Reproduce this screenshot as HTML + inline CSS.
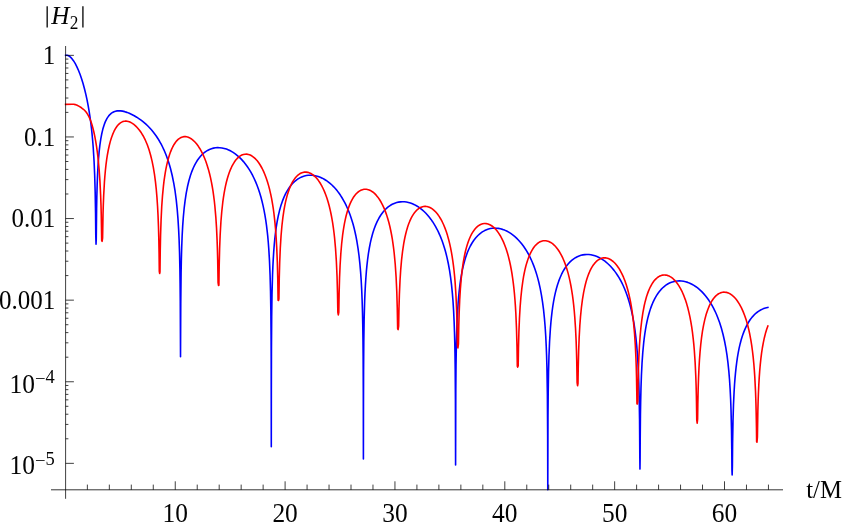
<!DOCTYPE html>
<html><head><meta charset="utf-8"><title>plot</title>
<style>
html,body{margin:0;padding:0;background:#fff;}
body{width:843px;height:527px;overflow:hidden;}
svg{display:block;}
text{font-family:"Liberation Serif",serif;fill:#000;}
</style></head><body>
<svg width="843" height="527" viewBox="0 0 843 527">
<rect width="843" height="527" fill="#fff"/>
<path d="M65.60 55.34 L66.31 55.24 L67.08 55.29 L67.85 55.48 L68.62 55.81 L69.39 56.27 L70.21 56.91 L70.98 57.62 L71.80 58.51 L73.45 60.68 L75.15 63.44 L76.79 66.61 L78.44 70.28 L80.03 74.33 L81.57 78.76 L83.05 83.56 L84.47 88.74 L85.79 94.11 L87.00 99.63 L88.15 105.56 L89.19 111.63 L90.02 117.04 L90.78 122.70 L91.50 128.67 L92.10 134.41 L92.70 141.01 L93.20 147.28 L94.08 161.47 L94.68 175.27 L95.17 191.97 L95.56 213.43 L95.78 235.67 L96.03 244.18 L96.27 238.72 L96.60 208.45 L96.82 197.17 L97.15 185.24 L97.53 175.28 L97.97 166.78 L98.52 158.71 L99.12 151.84 L99.89 145.05 L100.77 139.03 L101.76 133.73 L102.85 129.10 L104.12 124.94 L104.77 123.14 L105.49 121.43 L106.26 119.81 L107.02 118.41 L107.85 117.10 L108.72 115.90 L109.93 114.53 L111.19 113.40 L112.57 112.45 L113.99 111.73 L115.53 111.21 L117.12 110.89 L118.82 110.78 L120.63 110.86 L122.61 111.14 L124.75 111.65 L126.99 112.38 L129.30 113.29 L131.77 114.43 L134.24 115.73 L136.71 117.19 L139.17 118.82 L141.42 120.44 L143.56 122.13 L145.65 123.93 L147.62 125.78 L149.54 127.74 L151.41 129.80 L153.22 131.98 L154.92 134.20 L156.57 136.52 L158.16 138.96 L159.69 141.52 L161.18 144.19 L162.60 146.99 L163.92 149.80 L165.18 152.72 L166.39 155.76 L167.54 158.92 L168.58 162.03 L169.57 165.25 L170.50 168.56 L172.20 175.48 L173.74 183.04 L175.06 190.99 L176.21 199.67 L177.14 208.55 L177.96 218.66 L178.62 229.39 L179.12 240.19 L179.56 253.59 L179.89 268.43 L180.10 283.45 L180.27 301.24 L180.52 356.67 L180.76 303.17 L181.09 272.78 L181.37 258.96 L181.70 247.42 L182.13 236.33 L182.68 226.16 L183.34 216.99 L184.16 208.23 L185.10 200.53 L186.19 193.36 L187.46 186.79 L188.83 181.01 L190.42 175.54 L191.30 172.96 L192.18 170.62 L193.38 167.75 L194.64 165.11 L196.02 162.59 L197.44 160.29 L198.92 158.20 L200.51 156.25 L202.16 154.51 L203.86 152.98 L205.67 151.60 L207.54 150.43 L209.46 149.47 L211.43 148.70 L213.46 148.14 L215.55 147.78 L217.63 147.62 L219.77 147.68 L221.97 147.93 L224.22 148.41 L226.47 149.11 L228.66 149.98 L230.91 151.09 L233.10 152.39 L235.24 153.85 L237.38 155.53 L239.47 157.39 L241.50 159.41 L243.47 161.60 L245.39 163.97 L247.26 166.51 L249.02 169.15 L250.72 171.95 L252.36 174.94 L254.01 178.24 L255.55 181.64 L257.03 185.28 L258.40 189.01 L259.71 192.99 L260.92 197.07 L262.02 201.21 L263.06 205.61 L264.05 210.33 L264.93 215.08 L265.75 220.16 L266.46 225.19 L267.12 230.53 L267.73 236.21 L268.27 242.25 L268.77 248.70 L269.48 260.62 L270.08 275.10 L270.52 291.14 L270.85 310.90 L271.07 335.15 L271.18 359.02 L271.30 446.73 L271.35 387.96 L271.46 347.11 L271.68 316.63 L272.00 294.63 L272.55 274.51 L272.88 266.39 L273.27 258.84 L273.71 251.87 L274.25 244.79 L274.80 238.95 L275.46 233.10 L276.34 226.64 L277.27 220.98 L278.31 215.70 L279.52 210.56 L280.84 205.86 L282.32 201.40 L283.91 197.36 L285.61 193.71 L287.48 190.32 L289.51 187.23 L291.65 184.51 L292.80 183.24 L293.95 182.10 L295.16 181.02 L296.37 180.05 L297.63 179.15 L298.94 178.33 L300.26 177.62 L301.63 176.98 L303.00 176.45 L304.38 176.02 L306.30 175.58 L308.22 175.31 L310.19 175.20 L312.17 175.27 L314.14 175.50 L316.17 175.91 L318.20 176.49 L320.23 177.24 L322.26 178.16 L324.24 179.22 L326.21 180.45 L328.13 181.81 L330.05 183.35 L331.92 185.02 L333.73 186.82 L335.54 188.81 L337.24 190.86 L338.89 193.04 L340.48 195.33 L342.01 197.74 L343.49 200.28 L344.92 202.94 L346.29 205.72 L347.55 208.51 L348.82 211.54 L349.97 214.56 L351.07 217.70 L352.11 220.95 L353.10 224.33 L354.03 227.83 L354.91 231.46 L355.73 235.22 L356.94 241.51 L358.03 248.33 L359.02 255.75 L359.84 263.32 L360.61 272.13 L361.22 280.94 L361.71 290.16 L362.15 300.95 L362.48 311.88 L362.75 324.52 L362.97 339.34 L363.14 356.77 L363.30 392.40 L363.40 459.01 L363.47 403.46 L363.58 369.99 L363.80 341.77 L364.12 320.56 L364.67 300.85 L365.00 292.83 L365.39 285.36 L365.83 278.44 L366.37 271.41 L366.92 265.61 L367.58 259.77 L368.40 253.70 L369.34 248.00 L370.38 242.67 L371.48 237.93 L372.74 233.31 L374.11 229.04 L375.59 225.12 L377.24 221.41 L378.99 218.04 L380.86 215.01 L382.89 212.23 L385.03 209.78 L387.28 207.66 L388.48 206.68 L389.69 205.81 L390.95 205.01 L392.22 204.31 L393.48 203.70 L394.79 203.16 L396.66 202.56 L398.52 202.12 L400.45 201.85 L402.42 201.75 L404.40 201.81 L406.43 202.05 L408.40 202.45 L410.43 203.02 L412.46 203.77 L414.44 204.66 L416.41 205.71 L418.39 206.94 L420.31 208.30 L422.23 209.83 L424.09 211.49 L425.90 213.29 L427.66 215.21 L429.36 217.25 L431.01 219.41 L432.60 221.69 L434.13 224.09 L435.61 226.61 L437.04 229.26 L438.36 231.91 L439.67 234.80 L440.88 237.68 L442.09 240.82 L443.19 243.93 L444.23 247.17 L445.22 250.52 L446.15 254.00 L447.03 257.60 L448.34 263.74 L449.55 270.43 L450.59 277.36 L451.53 284.89 L452.35 293.10 L453.01 301.31 L453.61 310.90 L454.10 321.21 L454.49 331.93 L454.76 342.19 L454.98 353.22 L455.20 369.27 L455.42 399.29 L455.59 464.89 L455.80 389.33 L456.02 364.83 L456.41 342.69 L456.96 324.77 L457.67 310.16 L458.11 303.54 L458.60 297.37 L459.15 291.64 L459.81 285.87 L460.58 280.22 L461.46 274.81 L462.44 269.67 L463.49 265.07 L464.64 260.71 L465.90 256.62 L467.27 252.81 L468.75 249.26 L470.34 245.99 L472.05 242.98 L473.86 240.25 L475.83 237.72 L477.92 235.48 L480.06 233.57 L482.30 231.93 L484.66 230.57 L486.53 229.73 L488.45 229.06 L490.37 228.58 L492.35 228.27 L494.32 228.14 L496.35 228.18 L498.38 228.40 L500.47 228.80 L502.55 229.38 L504.58 230.12 L506.67 231.06 L508.70 232.15 L510.73 233.41 L512.70 234.83 L514.62 236.38 L516.54 238.12 L518.35 239.94 L520.16 241.94 L521.86 244.02 L523.56 246.29 L525.21 248.71 L526.75 251.16 L528.23 253.75 L529.65 256.46 L531.03 259.30 L532.34 262.28 L533.60 265.40 L534.76 268.51 L535.85 271.75 L536.90 275.13 L537.88 278.64 L538.82 282.29 L540.19 288.40 L541.45 295.08 L542.55 302.05 L543.54 309.68 L544.41 318.10 L545.13 326.71 L545.73 336.01 L546.22 345.92 L546.61 356.08 L546.94 367.89 L547.38 394.22 L547.65 435.28 L547.78 489.80 L547.98 418.31 L548.20 392.48 L548.53 372.20 L548.97 356.07 L549.57 341.74 L550.39 328.64 L550.89 322.69 L551.38 317.64 L552.04 311.92 L552.75 306.70 L553.52 301.89 L554.40 297.19 L555.33 292.88 L556.37 288.72 L557.53 284.74 L558.73 281.13 L560.05 277.70 L561.48 274.48 L563.01 271.46 L564.60 268.76 L566.30 266.26 L568.11 263.97 L570.04 261.91 L572.01 260.12 L573.71 258.82 L575.47 257.69 L577.28 256.73 L579.09 255.95 L580.95 255.34 L582.87 254.89 L584.85 254.60 L586.82 254.50 L588.85 254.57 L590.88 254.81 L592.91 255.23 L594.94 255.81 L596.97 256.57 L599.00 257.50 L601.03 258.60 L603.01 259.84 L604.93 261.22 L606.85 262.78 L608.72 264.47 L610.53 266.28 L612.28 268.23 L614.04 270.37 L615.74 272.64 L617.33 274.96 L618.87 277.41 L620.35 279.99 L621.77 282.69 L623.15 285.52 L624.46 288.48 L625.67 291.44 L626.88 294.68 L627.97 297.90 L629.73 303.74 L631.27 309.73 L632.64 316.05 L633.90 322.98 L635.00 330.28 L635.93 337.85 L636.75 346.11 L637.47 355.18 L638.01 364.09 L638.45 373.23 L638.84 383.71 L639.17 396.02 L639.55 419.35 L639.82 457.84 L639.96 469.08 L640.10 459.34 L640.21 438.24 L640.43 415.61 L640.65 401.96 L640.98 388.13 L641.42 375.52 L642.02 363.40 L642.79 352.40 L643.66 343.11 L644.21 338.40 L644.82 333.91 L645.48 329.64 L646.13 325.89 L646.90 322.02 L647.72 318.37 L648.60 314.93 L649.54 311.69 L650.52 308.63 L651.62 305.61 L652.72 302.93 L653.92 300.30 L655.19 297.85 L656.50 295.58 L657.88 293.49 L659.36 291.49 L660.89 289.67 L662.48 288.02 L664.13 286.54 L665.89 285.20 L667.70 284.03 L669.51 283.07 L671.43 282.26 L673.35 281.64 L675.32 281.20 L677.35 280.94 L679.38 280.86 L681.47 280.97 L683.55 281.26 L685.64 281.73 L687.72 282.38 L689.81 283.21 L691.89 284.22 L693.92 285.38 L695.95 286.73 L697.93 288.22 L699.85 289.85 L701.77 291.67 L703.63 293.64 L705.44 295.75 L707.20 298.00 L708.85 300.32 L710.49 302.85 L712.03 305.44 L713.51 308.17 L714.94 311.03 L716.31 314.04 L717.62 317.21 L719.60 322.58 L721.41 328.32 L723.06 334.45 L724.54 340.99 L725.80 347.64 L726.95 354.96 L727.94 362.64 L728.82 371.11 L729.53 379.80 L730.13 389.21 L730.63 399.26 L731.01 409.63 L731.50 429.83 L731.78 449.41 L731.94 470.04 L732.15 475.02 L732.38 466.67 L732.60 443.04 L732.99 421.31 L733.48 404.99 L734.08 391.92 L734.52 384.80 L734.96 378.93 L735.46 373.36 L736.06 367.62 L736.72 362.34 L737.43 357.45 L738.25 352.62 L739.13 348.19 L740.17 343.67 L741.27 339.58 L742.53 335.52 L743.85 331.87 L745.33 328.33 L746.87 325.16 L748.51 322.24 L750.27 319.56 L752.13 317.12 L754.11 314.94 L756.19 313.01 L758.39 311.34 L760.64 309.97 L763.00 308.86 L765.41 308.04 L767.88 307.50" stroke="#0000ff" stroke-width="1.6" fill="none" stroke-linejoin="round" stroke-linecap="square"/>
<path d="M65.60 104.37 L72.24 104.19 L73.83 104.31 L75.20 104.60 L77.12 105.28 L79.26 106.37 L81.46 107.76 L83.43 109.29 L84.97 110.76 L86.28 112.32 L87.49 114.08 L88.64 116.13 L89.74 118.48 L90.84 121.29 L91.83 124.26 L92.81 127.72 L93.80 131.71 L94.79 136.33 L95.67 141.04 L96.49 146.12 L97.26 151.58 L97.92 157.00 L98.57 163.32 L99.12 169.53 L99.95 181.32 L100.60 194.43 L100.99 204.98 L101.26 214.95 L101.70 240.51 L102.12 241.35 L102.58 238.09 L103.02 214.56 L103.29 205.29 L103.68 195.50 L104.44 181.81 L104.88 175.98 L105.38 170.50 L105.98 164.91 L106.69 159.42 L107.46 154.48 L108.29 150.01 L109.22 145.71 L110.26 141.64 L111.36 138.01 L112.57 134.65 L113.94 131.47 L115.42 128.67 L116.19 127.45 L117.01 126.29 L117.83 125.27 L118.66 124.38 L119.53 123.57 L120.41 122.89 L121.29 122.34 L122.22 121.87 L123.15 121.53 L124.09 121.30 L125.07 121.17 L126.06 121.16 L127.10 121.26 L128.20 121.49 L129.30 121.84 L130.40 122.30 L131.55 122.90 L132.70 123.61 L133.85 124.44 L134.95 125.33 L136.05 126.33 L137.14 127.45 L139.28 129.96 L141.31 132.81 L143.23 135.99 L144.33 138.06 L145.37 140.22 L147.30 144.77 L149.05 149.77 L150.64 155.20 L152.07 161.07 L153.33 167.35 L154.48 174.37 L155.47 181.83 L156.24 189.00 L156.95 197.31 L157.55 206.30 L158.05 215.86 L158.49 227.28 L158.82 239.17 L159.09 253.48 L159.31 271.46 L159.64 273.44 L159.97 272.15 L160.24 250.58 L160.57 235.16 L161.07 220.16 L161.72 206.83 L162.49 195.88 L163.43 186.10 L163.97 181.46 L164.58 177.04 L165.24 172.84 L165.89 169.15 L166.72 165.12 L167.60 161.39 L168.53 157.93 L169.52 154.75 L170.56 151.83 L171.66 149.16 L172.81 146.74 L174.07 144.48 L175.39 142.51 L176.70 140.87 L178.13 139.43 L179.56 138.32 L181.04 137.47 L182.52 136.92 L184.06 136.63 L185.65 136.63 L186.52 136.75 L187.46 136.97 L188.33 137.26 L189.27 137.66 L191.08 138.69 L192.89 140.06 L194.70 141.77 L196.51 143.83 L198.21 146.10 L199.91 148.73 L201.50 151.55 L203.04 154.65 L204.52 158.03 L205.89 161.57 L207.21 165.41 L208.42 169.40 L209.51 173.50 L210.56 177.91 L211.43 182.12 L212.20 186.26 L212.97 190.95 L213.63 195.52 L214.29 200.75 L214.83 205.77 L215.82 217.06 L216.54 228.17 L217.08 239.89 L217.41 249.35 L217.69 259.73 L218.07 282.55 L218.50 285.35 L218.89 285.33 L219.17 266.79 L219.61 249.10 L220.16 235.03 L220.92 221.79 L221.75 211.72 L222.79 202.23 L223.39 197.80 L224.05 193.58 L224.77 189.59 L225.48 186.08 L226.36 182.27 L227.29 178.74 L228.28 175.46 L229.37 172.28 L230.53 169.37 L231.73 166.71 L233.00 164.31 L234.37 162.06 L235.79 160.09 L237.22 158.45 L238.70 157.06 L240.24 155.92 L241.83 155.06 L243.42 154.48 L245.01 154.18 L246.66 154.16 L248.41 154.45 L250.22 155.07 L252.03 156.04 L253.79 157.31 L255.55 158.93 L257.25 160.83 L258.89 163.02 L260.48 165.50 L262.02 168.25 L263.45 171.17 L264.87 174.48 L266.19 177.96 L267.45 181.73 L268.60 185.63 L269.70 189.82 L270.74 194.36 L271.62 198.69 L272.44 203.30 L273.21 208.21 L273.87 213.01 L274.47 218.05 L275.02 223.33 L275.52 228.84 L276.01 235.35 L276.72 247.46 L277.33 262.32 L277.77 279.07 L278.09 300.30 L278.50 300.42 L278.92 299.01 L279.25 278.64 L279.69 262.47 L280.29 248.13 L281.06 235.78 L281.88 226.23 L282.92 217.16 L284.08 209.49 L284.73 205.85 L285.45 202.38 L286.27 198.85 L287.20 195.36 L288.19 192.14 L289.23 189.18 L290.33 186.46 L291.48 183.98 L292.69 181.73 L294.01 179.63 L295.38 177.79 L296.75 176.25 L298.23 174.90 L299.71 173.83 L301.25 173.01 L302.84 172.44 L304.43 172.14 L306.02 172.09 L307.83 172.35 L309.64 172.93 L311.45 173.83 L313.21 175.02 L314.96 176.53 L316.67 178.31 L318.31 180.37 L319.96 182.78 L321.49 185.38 L322.97 188.25 L324.40 191.41 L325.72 194.72 L326.98 198.31 L328.13 202.03 L329.23 206.03 L330.27 210.35 L331.15 214.48 L331.92 218.55 L332.69 223.15 L333.34 227.63 L334.00 232.75 L334.55 237.66 L335.54 248.64 L336.36 261.29 L337.02 276.05 L337.51 293.28 L337.84 312.29 L338.31 314.95 L338.78 312.45 L339.11 293.67 L339.54 278.27 L340.09 265.44 L340.81 253.79 L341.63 244.02 L342.62 235.21 L343.22 230.84 L343.82 227.01 L344.48 223.33 L345.20 219.82 L346.02 216.26 L346.95 212.73 L347.88 209.65 L348.93 206.64 L350.02 203.89 L351.18 201.37 L352.38 199.09 L353.64 197.04 L354.96 195.23 L356.39 193.58 L357.81 192.24 L359.30 191.13 L360.83 190.27 L362.37 189.67 L363.96 189.32 L365.55 189.24 L366.43 189.30 L367.36 189.44 L369.17 189.97 L370.98 190.82 L372.74 191.96 L374.49 193.41 L376.19 195.14 L377.84 197.14 L379.49 199.49 L381.02 202.02 L382.50 204.82 L383.93 207.90 L385.25 211.13 L386.51 214.62 L387.72 218.41 L388.81 222.31 L389.86 226.51 L390.73 230.51 L391.56 234.74 L392.33 239.21 L392.98 243.55 L393.59 248.05 L394.19 253.20 L395.23 264.29 L396.11 277.30 L396.77 291.50 L397.26 307.71 L397.65 328.83 L398.12 329.57 L398.63 326.24 L398.96 308.82 L399.40 294.12 L400.01 280.67 L400.72 269.57 L401.54 260.15 L402.53 251.58 L403.68 243.88 L404.34 240.24 L405.05 236.76 L405.88 233.22 L406.75 229.91 L407.69 226.83 L408.73 223.82 L409.77 221.19 L410.92 218.65 L412.08 216.45 L413.34 214.37 L414.66 212.53 L416.03 210.91 L417.45 209.54 L418.88 208.43 L420.36 207.56 L421.90 206.91 L423.43 206.53 L425.03 206.38 L425.90 206.42 L426.84 206.53 L428.65 207.00 L430.46 207.79 L432.27 208.90 L434.02 210.31 L435.78 212.05 L437.48 214.07 L439.13 216.38 L440.72 218.97 L442.20 221.74 L443.62 224.78 L445.00 228.11 L446.26 231.59 L447.47 235.35 L448.62 239.43 L449.66 243.63 L450.54 247.63 L451.36 251.85 L452.13 256.31 L452.84 261.03 L453.45 265.58 L454.05 270.78 L454.60 276.26 L455.09 282.03 L455.97 295.29 L456.63 309.90 L457.12 326.86 L457.45 345.38 L457.93 347.93 L458.44 343.95 L458.77 326.31 L459.15 313.04 L459.70 300.07 L460.41 288.32 L461.24 278.50 L462.22 269.64 L463.38 261.74 L464.69 254.71 L465.46 251.30 L466.34 247.88 L467.27 244.70 L468.26 241.75 L469.30 239.02 L470.40 236.51 L471.55 234.22 L472.76 232.14 L474.08 230.20 L475.39 228.56 L476.76 227.14 L478.19 225.94 L479.67 224.98 L481.15 224.27 L482.69 223.79 L484.23 223.56 L485.16 223.54 L486.09 223.60 L487.02 223.75 L487.96 223.99 L489.82 224.72 L491.63 225.75 L493.44 227.12 L495.25 228.84 L496.95 230.79 L498.65 233.11 L500.30 235.72 L501.84 238.55 L503.32 241.67 L504.69 244.96 L506.01 248.56 L507.21 252.30 L508.37 256.35 L509.46 260.75 L510.40 265.00 L511.22 269.26 L511.99 273.75 L512.70 278.51 L513.30 283.11 L513.91 288.37 L514.46 293.92 L514.95 299.78 L515.39 305.91 L515.83 313.31 L516.49 328.36 L516.98 346.12 L517.31 366.15 L517.74 367.09 L518.19 365.80 L518.46 348.81 L518.90 332.05 L519.45 318.48 L520.11 307.15 L520.88 297.48 L521.81 288.63 L522.91 280.65 L523.56 276.71 L524.22 273.23 L524.99 269.66 L525.81 266.30 L526.69 263.14 L527.62 260.19 L528.61 257.44 L529.65 254.89 L530.75 252.54 L531.96 250.30 L533.22 248.29 L534.48 246.57 L535.80 245.06 L537.17 243.76 L538.60 242.67 L540.08 241.81 L541.56 241.20 L543.10 240.82 L544.03 240.71 L544.96 240.69 L545.89 240.75 L546.88 240.92 L547.87 241.17 L548.80 241.50 L550.67 242.42 L552.53 243.68 L554.40 245.31 L556.15 247.20 L557.91 249.46 L559.61 252.04 L561.20 254.84 L562.74 257.95 L564.16 261.26 L565.54 264.90 L566.80 268.71 L568.01 272.86 L569.10 277.17 L570.04 281.33 L570.91 285.77 L571.74 290.52 L572.45 295.22 L573.11 300.19 L573.71 305.44 L574.26 310.99 L574.75 316.82 L575.52 328.32 L576.13 340.91 L576.45 350.25 L576.73 360.46 L577.11 382.64 L577.56 385.72 L577.99 383.60 L578.26 366.36 L578.65 351.16 L579.14 338.13 L579.80 326.07 L580.51 316.57 L581.39 307.73 L582.43 299.66 L583.64 292.40 L584.36 288.83 L585.18 285.22 L586.00 282.05 L586.88 279.06 L587.81 276.25 L588.80 273.63 L589.84 271.20 L590.94 268.96 L592.09 266.91 L593.30 265.06 L594.56 263.40 L595.88 261.94 L597.25 260.69 L598.62 259.69 L600.05 258.89 L601.53 258.31 L602.46 258.06 L603.45 257.90 L604.38 257.84 L605.37 257.87 L606.36 258.00 L607.34 258.23 L608.33 258.55 L609.32 258.96 L610.31 259.47 L611.24 260.04 L613.16 261.50 L615.02 263.30 L616.89 265.49 L618.65 267.96 L620.35 270.77 L621.94 273.81 L623.47 277.20 L624.90 280.81 L626.27 284.79 L627.53 288.99 L628.69 293.38 L629.67 297.67 L630.55 302.00 L631.37 306.62 L632.14 311.55 L632.86 316.84 L633.46 322.01 L634.06 328.05 L634.56 333.87 L635.33 345.33 L635.93 357.86 L636.26 367.14 L636.53 377.26 L636.97 403.75 L637.37 404.01 L637.79 401.42 L638.07 383.92 L638.40 370.39 L638.84 357.97 L639.44 346.00 L640.10 336.47 L640.87 328.00 L641.80 320.02 L642.90 312.68 L644.21 305.77 L644.98 302.41 L645.75 299.43 L646.57 296.59 L647.45 293.90 L648.38 291.36 L649.37 288.98 L650.41 286.77 L651.46 284.83 L652.61 282.95 L653.76 281.32 L654.97 279.86 L656.23 278.57 L657.49 277.50 L658.81 276.60 L659.80 276.07 L660.78 275.65 L661.77 275.33 L662.81 275.11 L663.80 275.01 L664.84 275.00 L665.89 275.11 L666.93 275.32 L667.97 275.63 L669.01 276.06 L670.06 276.59 L671.04 277.19 L672.09 277.93 L673.07 278.74 L675.05 280.68 L676.97 282.99 L678.78 285.61 L680.53 288.60 L682.24 291.98 L683.83 295.66 L685.31 299.62 L686.68 303.85 L687.94 308.33 L688.98 312.57 L689.97 317.15 L690.90 322.11 L691.73 327.17 L692.50 332.63 L693.15 338.09 L693.76 343.94 L694.31 350.22 L695.13 362.34 L695.79 376.20 L696.12 385.82 L696.39 396.46 L696.77 420.18 L697.18 423.11 L697.60 419.25 L697.82 404.39 L698.15 389.76 L698.53 378.05 L698.97 368.24 L699.46 359.79 L700.07 351.71 L700.73 344.70 L701.49 338.08 L702.48 331.22 L703.58 325.08 L704.84 319.37 L706.21 314.31 L707.75 309.69 L709.39 305.66 L710.27 303.83 L711.20 302.09 L712.19 300.45 L713.18 299.00 L714.17 297.72 L715.15 296.60 L716.14 295.62 L717.18 294.74 L718.23 294.00 L719.32 293.36 L720.42 292.87 L721.57 292.49 L722.73 292.25 L723.88 292.15 L725.03 292.18 L726.18 292.34 L727.34 292.64 L728.49 293.06 L729.64 293.61 L730.79 294.30 L731.94 295.12 L733.04 296.03 L734.14 297.07 L735.24 298.25 L736.33 299.57 L737.38 300.96 L739.41 304.09 L741.33 307.64 L743.14 311.60 L744.84 315.98 L746.37 320.62 L747.64 325.04 L748.79 329.69 L749.83 334.53 L750.82 339.85 L751.70 345.37 L752.46 351.01 L753.18 357.18 L753.84 364.00 L754.33 370.12 L754.77 376.59 L755.54 391.77 L755.92 402.70 L756.19 413.25 L756.47 428.25 L756.63 441.69 L756.99 442.09 L757.40 437.10 L757.84 411.48 L758.11 401.65 L758.44 392.67 L758.83 384.49 L759.21 377.91 L759.65 371.68 L760.20 365.26 L760.86 358.91 L761.57 353.22 L762.39 347.75 L763.33 342.56 L764.31 337.93 L765.41 333.59 L766.62 329.55 L767.88 325.99" stroke="#ff0000" stroke-width="1.6" fill="none" stroke-linejoin="round" stroke-linecap="square"/>
<path d="M51 489.80 H783" stroke="#000" stroke-width="0.8" fill="none"/>
<path d="M65.60 46 V498.8" stroke="#000" stroke-width="0.75" fill="none"/>
<path d="M87.37 489.80 V484.60 M109.34 489.80 V484.60 M131.31 489.80 V484.60 M153.28 489.80 V484.60 M175.25 489.80 V481.30 M197.22 489.80 V484.60 M219.19 489.80 V484.60 M241.16 489.80 V484.60 M263.13 489.80 V484.60 M285.10 489.80 V481.30 M307.07 489.80 V484.60 M329.04 489.80 V484.60 M351.01 489.80 V484.60 M372.98 489.80 V484.60 M394.95 489.80 V481.30 M416.92 489.80 V484.60 M438.89 489.80 V484.60 M460.86 489.80 V484.60 M482.83 489.80 V484.60 M504.80 489.80 V481.30 M526.77 489.80 V484.60 M548.74 489.80 V484.60 M570.71 489.80 V484.60 M592.68 489.80 V484.60 M614.65 489.80 V481.30 M636.62 489.80 V484.60 M658.59 489.80 V484.60 M680.56 489.80 V484.60 M702.53 489.80 V484.60 M724.50 489.80 V481.30 M746.47 489.80 V484.60 M768.44 489.80 V484.60 M65.60 55.35 H73.90 M65.60 112.39 H68.40 M65.60 98.02 H68.40 M65.60 87.82 H68.40 M65.60 79.91 H68.40 M65.60 73.45 H68.40 M65.60 67.99 H68.40 M65.60 63.26 H68.40 M65.60 59.08 H68.40 M65.60 136.95 H73.90 M65.60 193.99 H68.40 M65.60 179.62 H68.40 M65.60 169.42 H68.40 M65.60 161.51 H68.40 M65.60 155.05 H68.40 M65.60 149.59 H68.40 M65.60 144.86 H68.40 M65.60 140.68 H68.40 M65.60 218.55 H73.90 M65.60 275.59 H68.40 M65.60 261.22 H68.40 M65.60 251.02 H68.40 M65.60 243.11 H68.40 M65.60 236.65 H68.40 M65.60 231.19 H68.40 M65.60 226.46 H68.40 M65.60 222.28 H68.40 M65.60 300.15 H73.90 M65.60 357.19 H68.40 M65.60 342.82 H68.40 M65.60 332.62 H68.40 M65.60 324.71 H68.40 M65.60 318.25 H68.40 M65.60 312.79 H68.40 M65.60 308.06 H68.40 M65.60 303.88 H68.40 M65.60 381.75 H73.90 M65.60 438.79 H68.40 M65.60 424.42 H68.40 M65.60 414.22 H68.40 M65.60 406.31 H68.40 M65.60 399.85 H68.40 M65.60 394.39 H68.40 M65.60 389.66 H68.40 M65.60 385.48 H68.40 M65.60 463.35 H73.90" stroke="#000" stroke-width="0.75" fill="none"/>
<g font-size="26.5" opacity="0.99">
<text transform="translate(55.30 64.15) scale(0.945 1)" text-anchor="end">1</text>
<text transform="translate(55.30 145.75) scale(0.945 1)" text-anchor="end">0.1</text>
<text transform="translate(55.30 227.35) scale(0.945 1)" text-anchor="end">0.01</text>
<text transform="translate(55.30 308.95) scale(0.945 1)" text-anchor="end">0.001</text>
<text transform="translate(34.90 392.85) scale(0.96 1)" text-anchor="end">10</text>
<text transform="translate(35.00 384.40) scale(1.08 1)" font-size="17.3">&#8722;</text>
<text transform="translate(45.50 383.20) scale(1.04 1)" font-size="17.8">4</text>
<text transform="translate(34.90 474.45) scale(0.96 1)" text-anchor="end">10</text>
<text transform="translate(35.00 466.00) scale(1.08 1)" font-size="17.3">&#8722;</text>
<text transform="translate(45.50 464.80) scale(1.04 1)" font-size="17.8">5</text>
<text transform="translate(175.25 522.00) scale(0.96 1)" text-anchor="middle">10</text>
<text transform="translate(285.10 522.00) scale(0.96 1)" text-anchor="middle">20</text>
<text transform="translate(394.95 522.00) scale(0.96 1)" text-anchor="middle">30</text>
<text transform="translate(504.80 522.00) scale(0.96 1)" text-anchor="middle">40</text>
<text transform="translate(614.65 522.00) scale(0.96 1)" text-anchor="middle">50</text>
<text transform="translate(724.50 522.00) scale(0.96 1)" text-anchor="middle">60</text>
<text transform="translate(806.20 498.20) scale(1.0 1)" font-size="24.7">t/M</text>
<path d="M47.2 6.3V27.6M82.9 6.3V27.6" stroke="#222" stroke-width="1.5"/>
<text transform="translate(51.30 23.65) scale(1.0 1)" font-size="25.2" font-style="italic">H</text>
<text transform="translate(69.70 28.80) scale(0.96 1)" font-size="18.0">2</text>
</g>
</svg>
</body></html>
